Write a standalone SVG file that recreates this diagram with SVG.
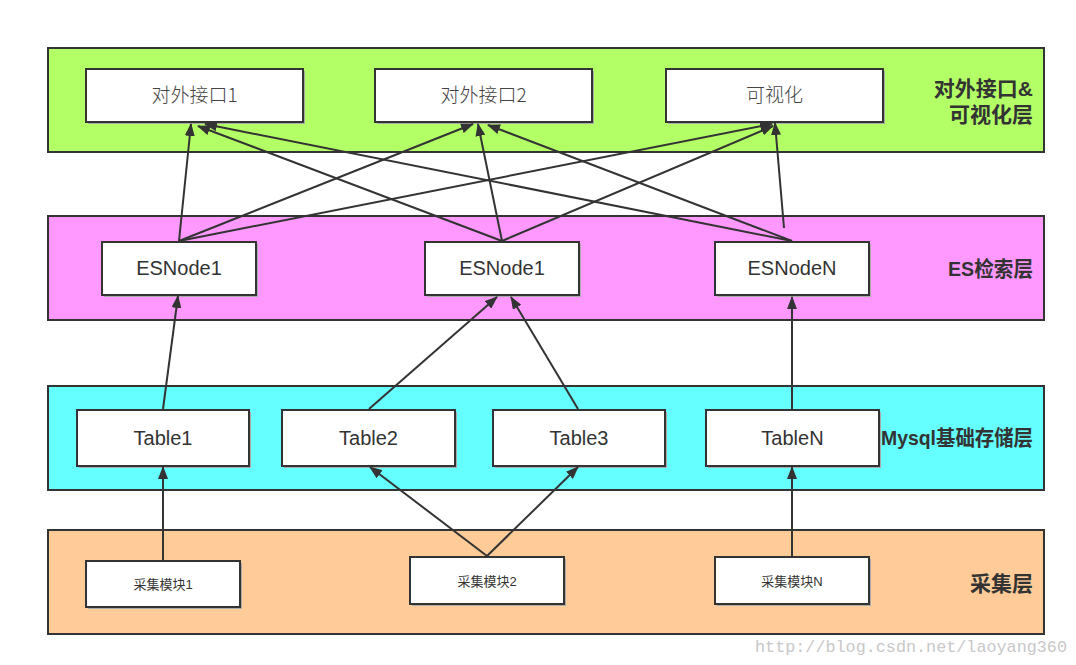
<svg xmlns="http://www.w3.org/2000/svg" width="1076" height="665" viewBox="0 0 1076 665">
<style>
.layer{stroke:#333;stroke-width:2}
.box{fill:#fff;stroke:#333;stroke-width:2}
.sh{fill:#aaa}
.lbl{font-family:"Liberation Sans","Noto Sans CJK SC",sans-serif;fill:#333;text-anchor:middle}
.cjk{font-family:"Noto Sans CJK SC",sans-serif;fill:#444;text-anchor:middle;font-size:19px;font-weight:300}
.title{font-family:"Liberation Sans","Noto Sans CJK SC",sans-serif;font-weight:bold;font-size:21px;fill:#333;text-anchor:end}
.conn{stroke:#333;stroke-width:2;fill:none;marker-end:url(#arr)}
</style>
<defs>
<marker id="arr" markerUnits="userSpaceOnUse" markerWidth="14" markerHeight="10" refX="12" refY="5" orient="auto">
<path d="M0,0 L13,5 L0,10 z" fill="#333"/>
</marker>
</defs>
<rect width="1076" height="665" fill="#fff"/>

<g id="layer-api">
<rect class="layer" x="48" y="48" width="996" height="104" fill="#b3ff66"/>
<text class="title" x="1033" y="96">对外接口&amp;</text>
<text class="title" x="1033" y="122">可视化层</text>
</g>
<g id="layer-es">
<rect class="layer" x="48" y="216" width="996" height="104" fill="#ff99ff"/>
<text class="title" x="1033" y="276" textLength="85" lengthAdjust="spacingAndGlyphs">ES检索层</text>
</g>
<g id="layer-mysql">
<rect class="layer" x="48" y="386" width="996" height="104" fill="#66ffff"/>
<text class="title" x="1033" y="445" textLength="152" lengthAdjust="spacingAndGlyphs">Mysql基础存储层</text>
</g>
<g id="layer-collect">
<rect class="layer" x="48" y="530" width="996" height="104" fill="#ffcc99"/>
<text class="title" x="1033" y="591" font-size="22">采集层</text>
</g>

<g id="api1"><rect class="sh" x="88" y="71" width="217" height="53"/><rect class="box" x="86" y="69" width="217" height="53"/><text class="cjk" x="194.5" y="102">对外接口1</text></g>
<g id="api2"><rect class="sh" x="377" y="71" width="217" height="53"/><rect class="box" x="375" y="69" width="217" height="53"/><text class="cjk" x="483.5" y="102">对外接口2</text></g>
<g id="vis"><rect class="sh" x="668" y="71" width="217" height="53"/><rect class="box" x="666" y="69" width="217" height="53"/><text class="cjk" x="774.5" y="102">可视化</text></g>

<g id="es1"><rect class="sh" x="104" y="244" width="154" height="53"/><rect class="box" x="102" y="242" width="154" height="53"/><text class="lbl" x="179" y="275" font-size="20">ESNode1</text></g>
<g id="es2"><rect class="sh" x="427" y="244" width="154" height="53"/><rect class="box" x="425" y="242" width="154" height="53"/><text class="lbl" x="502" y="275" font-size="20">ESNode1</text></g>
<g id="esN"><rect class="sh" x="717" y="244" width="154" height="53"/><rect class="box" x="715" y="242" width="154" height="53"/><text class="lbl" x="792" y="275" font-size="20">ESNodeN</text></g>

<g id="t1"><rect class="sh" x="79" y="412" width="172" height="56"/><rect class="box" x="77" y="410" width="172" height="56"/><text class="lbl" x="163" y="444.5" font-size="20">Table1</text></g>
<g id="t2"><rect class="sh" x="284" y="412" width="173" height="56"/><rect class="box" x="282" y="410" width="173" height="56"/><text class="lbl" x="368.5" y="444.5" font-size="20">Table2</text></g>
<g id="t3"><rect class="sh" x="495" y="412" width="172" height="56"/><rect class="box" x="493" y="410" width="172" height="56"/><text class="lbl" x="579" y="444.5" font-size="20">Table3</text></g>
<g id="tN"><rect class="sh" x="708" y="412" width="173" height="56"/><rect class="box" x="706" y="410" width="173" height="56"/><text class="lbl" x="792.5" y="444.5" font-size="20">TableN</text></g>

<g id="c1"><rect class="sh" x="88" y="563" width="154" height="46"/><rect class="box" x="86" y="561" width="154" height="46"/><text class="lbl" x="163" y="589" font-size="13">采集模块1</text></g>
<g id="c2"><rect class="sh" x="412" y="559" width="154" height="47"/><rect class="box" x="410" y="557" width="154" height="47"/><text class="lbl" x="487" y="585.5" font-size="13">采集模块2</text></g>
<g id="cN"><rect class="sh" x="717" y="559" width="154" height="47"/><rect class="box" x="715" y="557" width="154" height="47"/><text class="lbl" x="792" y="585.5" font-size="13">采集模块N</text></g>

<g id="connectors">
<line class="conn" x1="179" y1="241" x2="191" y2="124"/>
<line class="conn" x1="502" y1="241" x2="198" y2="126"/>
<line class="conn" x1="792" y1="241" x2="205" y2="124"/>
<line class="conn" x1="179" y1="241" x2="473" y2="124"/>
<line class="conn" x1="502" y1="241" x2="478" y2="124"/>
<line class="conn" x1="792" y1="241" x2="488" y2="125"/>
<line class="conn" x1="179" y1="241" x2="772" y2="124"/>
<line class="conn" x1="502" y1="241" x2="773" y2="126"/>
<line class="conn" x1="784" y1="228" x2="775" y2="123"/>
<line class="conn" x1="163" y1="409" x2="178" y2="296"/>
<line class="conn" x1="369" y1="409" x2="497" y2="297"/>
<line class="conn" x1="578" y1="409" x2="511" y2="297"/>
<line class="conn" x1="792" y1="409" x2="792" y2="297"/>
<line class="conn" x1="163" y1="560" x2="163" y2="467"/>
<line class="conn" x1="487" y1="556" x2="370" y2="467"/>
<line class="conn" x1="487" y1="556" x2="578" y2="467"/>
<line class="conn" x1="792" y1="556" x2="792" y2="467"/>
</g>

<text x="755" y="652" font-family="Liberation Mono,monospace" font-size="17" fill="#c8c8c8" textLength="312" lengthAdjust="spacingAndGlyphs">http://blog.csdn.net/laoyang360</text>
</svg>
